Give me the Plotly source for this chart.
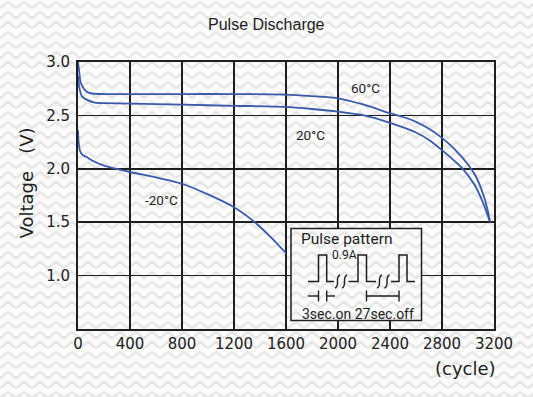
import base64
import plotly.graph_objects as go

# ---------------- data ----------------
cyc_60 = [0, 10, 20, 45, 70, 110, 200, 800, 1200, 1600, 1800, 2000, 2200, 2400, 2500, 2600, 2700, 2800, 2900, 3000, 3060, 3120, 3150, 3170]
v_60 = [3.00, 2.90, 2.81, 2.75, 2.72, 2.705, 2.70, 2.70, 2.70, 2.695, 2.68, 2.66, 2.60, 2.52, 2.485, 2.44, 2.375, 2.29, 2.18, 2.04, 1.93, 1.75, 1.62, 1.50]

cyc_20 = [0, 10, 30, 70, 130, 200, 400, 800, 1200, 1600, 1800, 2000, 2200, 2400, 2600, 2700, 2800, 2900, 2960, 3050, 3120, 3170]
v_20 = [2.87, 2.76, 2.68, 2.645, 2.62, 2.615, 2.61, 2.60, 2.59, 2.58, 2.56, 2.535, 2.50, 2.43, 2.34, 2.27, 2.175, 2.07, 2.00, 1.85, 1.67, 1.50]

cyc_m20 = [0, 4, 15, 35, 67, 120, 200, 400, 600, 800, 1000, 1200, 1360, 1500, 1600]
v_m20 = [2.36, 2.26, 2.17, 2.13, 2.11, 2.07, 2.03, 1.97, 1.92, 1.86, 1.76, 1.64, 1.50, 1.34, 1.21]

x_ticks = [0, 400, 800, 1200, 1600, 2000, 2400, 2800, 3200]
y_ticks = [1.0, 1.5, 2.0, 2.5, 3.0]

curve_labels = ["60°C", "20°C", "-20°C"]
label_pos_cycle = [2210, 1790, 640]
label_pos_volt = [2.755, 2.32, 1.71]

# ---------------- geometry helpers (figure pixels -> paper) ----------------
W, H = 533, 397
L, R, T, B = 78, 39, 62, 68
PW, PH = W - L - R, H - T - B


def X(px):
    return (px - L) / PW


def Y(py):
    return (H - B - py) / PH


def pattern_svg(w, h, ox, oy):
    rows = []
    for dy in (-10, 0, 10):
        rows.append(f"M-8,{2+dy} L0,{8+dy} L8,{2+dy} L16,{8+dy} L24,{2+dy}")
    d = " ".join(rows)
    svg = (
        f'<svg xmlns="http://www.w3.org/2000/svg" width="{w}" height="{h}" viewBox="0 0 {w} {h}">'
        f'<defs><pattern id="p" x="{ox}" y="{oy}" width="16" height="10" patternUnits="userSpaceOnUse">'
        f'<path d="{d}" fill="none" stroke="#e6e6e6" stroke-width="2.5"/></pattern></defs>'
        f'<rect width="{w}" height="{h}" fill="#fbfbfb"/>'
        f'<rect width="{w}" height="{h}" fill="url(#p)"/></svg>'
    )
    return "data:image/svg+xml;base64," + base64.b64encode(svg.encode()).decode()


line_color = "#3a5aa8"
ink = "#1e1e1e"

fig = go.Figure()
for cx, vy in ((cyc_60, v_60), (cyc_20, v_20), (cyc_m20, v_m20)):
    fig.add_trace(go.Scatter(x=cx, y=vy, mode="lines",
                             line=dict(color=line_color, width=1.8, shape="spline", smoothing=0.6),
                             hoverinfo="skip", showlegend=False))

# ---------------- inset box (pulse pattern) ----------------
bx0, by0, bx1, by1 = 291, 228.5, 421.5, 320.5
images = [
    dict(source=pattern_svg(W, H, 0, 0), xref="paper", yref="paper",
         x=X(0), y=Y(0), sizex=W / PW, sizey=H / PH,
         xanchor="left", yanchor="top", sizing="stretch", layer="below"),
    dict(source=pattern_svg(bx1 - bx0, by1 - by0, -bx0, -by0), xref="paper", yref="paper",
         x=X(bx0), y=Y(by0), sizex=(bx1 - bx0) / PW, sizey=(by1 - by0) / PH,
         xanchor="left", yanchor="top", sizing="stretch", layer="above"),
]


def path(points_cmds):
    out = []
    for cmd, pts in points_cmds:
        coords = " ".join(f"{X(px):.5f},{Y(py):.5f}" for px, py in pts)
        out.append(f"{cmd}{coords}")
    return " ".join(out)


lo, hi = 281.5, 255
shapes = [
    dict(type="rect", xref="paper", yref="paper", x0=X(bx0), x1=X(bx1), y0=Y(by0), y1=Y(by1),
         line=dict(color=ink, width=1.5), layer="above"),
]
wave_segments = [
    [(308, lo), (318.5, lo), (318.5, hi), (326.7, hi), (326.7, lo), (334, lo)],
    [(348.5, lo), (358, lo), (358, hi), (366.5, hi), (366.5, lo), (376, lo)],
    [(391, lo), (399, lo), (399, hi), (407, hi), (407, lo), (415, lo)],
]
for seg in wave_segments:
    d = path([("M", [seg[0]])] + [("L", [p]) for p in seg[1:]])
    shapes.append(dict(type="path", xref="paper", yref="paper", path=d,
                       line=dict(color=ink, width=1.5), layer="above"))
# break marks
for cxm in (337.5, 344.5, 379.5, 387.0):
    d = path([("M", [(cxm - 2.5, 288)]), ("C", [(cxm + 3, 286), (cxm - 3, 277), (cxm + 2.5, 275)])])
    shapes.append(dict(type="path", xref="paper", yref="paper", path=d,
                       line=dict(color=ink, width=1.4), layer="above"))
# dimension marks
dim_y = 296
dims = [
    [(308, dim_y), (318.5, dim_y)],
    [(318.5, 290.5), (318.5, 301.5)],
    [(326.7, 290.5), (326.7, 301.5)],
    [(326.7, dim_y), (335, dim_y)],
    [(366.5, 290.5), (366.5, 301.5)],
    [(366.5, dim_y), (399, dim_y)],
    [(399, 290.5), (399, 301.5)],
]
for (p0, p1) in dims:
    shapes.append(dict(type="line", xref="paper", yref="paper",
                       x0=X(p0[0]), y0=Y(p0[1]), x1=X(p1[0]), y1=Y(p1[1]),
                       line=dict(color=ink, width=1.4), layer="above"))

cad_font = "Roboto, DejaVu Sans, sans-serif"
annotations = []
for txt, cx, vy in zip(curve_labels, label_pos_cycle, label_pos_volt):
    annotations.append(dict(text=txt, x=cx, y=vy, xref="x", yref="y", showarrow=False,
                            font=dict(family=cad_font, size=13.5, color=ink)))
inset_texts = [
    ("Pulse pattern", 346.5, 238.5, 15.5),
    ("0.9A", 344, 254.5, 12),
    ("3sec.on 27sec.off", 357.5, 313.5, 14),
]
for txt, px, py, sz in inset_texts:
    annotations.append(dict(text=txt, x=X(px), y=Y(py), xref="paper", yref="paper", showarrow=False,
                            xanchor="center", yanchor="middle",
                            font=dict(family=cad_font, size=sz, color=ink)))
annotations += [
    dict(text="Pulse Discharge", x=X(266), y=Y(24.5), xref="paper", yref="paper", showarrow=False,
         xanchor="center", yanchor="middle",
         font=dict(family="Liberation Sans, Arial, sans-serif", size=16, color=ink)),
    dict(text="Voltage\u00a0\u00a0\u00a0(V)", x=X(26), y=Y(183.5), xref="paper", yref="paper",
         showarrow=False, textangle=-90, xanchor="center", yanchor="middle",
         font=dict(family="DejaVu Sans, sans-serif", size=18, color=ink)),
    dict(text="(cycle)", x=X(465), y=Y(368), xref="paper", yref="paper", showarrow=False,
         xanchor="center", yanchor="middle",
         font=dict(family="DejaVu Sans, sans-serif", size=18, color=ink)),
]

axis_common = dict(showline=True, mirror=True, linecolor=ink, linewidth=2,
                   showgrid=True, gridcolor=ink, gridwidth=1.5, zeroline=False,
                   ticks="", tickfont=dict(family="DejaVu Sans, sans-serif", size=15, color="#222222"),
                   fixedrange=True)

fig.update_layout(
    width=W, height=H,
    margin=dict(l=L, r=R, t=T, b=B, pad=0),
    paper_bgcolor="#fbfbfb",
    plot_bgcolor="rgba(0,0,0,0)",
    xaxis=dict(range=[0, 3200], tickvals=x_ticks, ticktext=[str(v) for v in x_ticks], **axis_common),
    yaxis=dict(range=[0.5, 3.0], tickvals=y_ticks, ticktext=[f"{v:.1f}" for v in y_ticks],
               ticklabelstandoff=3, **axis_common),
    images=images,
    shapes=shapes,
    annotations=annotations,
    showlegend=False,
)

fig.write_html("out.html", config={"displayModeBar": False, "staticPlot": True},
               post_script="document.body.style.margin='0px';document.body.style.overflow='hidden';")
